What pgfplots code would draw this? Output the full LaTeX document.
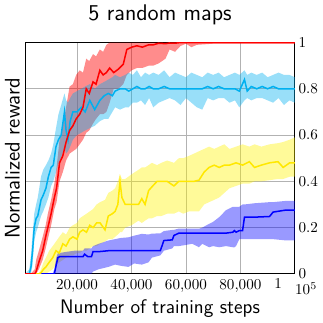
\documentclass[border=0pt]{standalone}
\usepackage{pgfplots}
\usepackage{pgfplotstable}
\pgfplotsset{compat=1.18}
\usepgfplotslibrary{fillbetween}
\definecolor{cyanline}{RGB}{0,176,240}
\definecolor{yelline}{RGB}{255,232,0}

\pgfplotstableread{
x m lo hi
1000 0 0 0
3000 0 0 0
4500 0 0 0.02
5000 0.01 0 0.06
6000 0.05 0.02 0.10
7400 0.10 0.06 0.16
8500 0.16 0.11 0.21
9300 0.20 0.15 0.26
10500 0.26 0.21 0.32
11700 0.33 0.28 0.39
12500 0.37 0.31 0.46
13600 0.48 0.40 0.58
14800 0.51 0.44 0.64
16000 0.57 0.49 0.72
17300 0.62 0.52 0.81
18500 0.64 0.53 0.82
19700 0.67 0.54 0.86
21000 0.69 0.56 0.88
22200 0.72 0.58 0.87
23400 0.80 0.61 0.93
24500 0.78 0.62 0.92
25900 0.83 0.65 0.95
27000 0.82 0.67 0.94
28400 0.88 0.69 0.97
29600 0.86 0.69 0.96
30800 0.87 0.70 0.99
32000 0.89 0.74 1.0
33500 0.87 0.80 1.0
35200 0.885 0.80 1.0
37000 0.906 0.82 1.0
38300 0.97 0.86 1.0
40100 0.98 0.88 1.0
42000 0.986 0.89 1.0
44000 0.98 0.89 1.0
46300 0.99 0.90 1.0
48000 0.99 0.90 1.0
50000 0.997 0.91 1.0
52500 0.995 0.93 1.0
54000 0.998 0.97 1.0
56000 0.997 0.96 1.0
58000 1.0 0.985 1.0
60000 1.0 0.995 1.0
62000 1.0 0.98 1.0
64000 1.0 0.99 1.0
70000 1.0 0.995 1.0
80000 1.0 0.995 1.0
90000 1.0 0.995 1.0
100000 1.0 0.995 1.0
}\redtab

\pgfplotstableread{
x m lo hi
1000 0 0 0
2500 0 0 0.02
3100 0.03 0 0.08
3700 0.10 0.04 0.17
4300 0.20 0.14 0.26
5000 0.24 0.18 0.30
5600 0.25 0.20 0.33
6800 0.32 0.25 0.42
7600 0.34 0.27 0.45
8600 0.37 0.30 0.47
9500 0.42 0.33 0.49
10500 0.46 0.38 0.52
11300 0.47 0.40 0.56
12300 0.55 0.44 0.63
13200 0.58 0.48 0.69
14200 0.60 0.50 0.73
15400 0.70 0.55 0.78
16000 0.62 0.52 0.75
16700 0.58 0.53 0.74
17500 0.66 0.55 0.76
18500 0.70 0.58 0.78
20000 0.70 0.60 0.79
21600 0.72 0.61 0.80
23000 0.70 0.62 0.81
24700 0.75 0.63 0.82
26500 0.71 0.64 0.80
28400 0.75 0.66 0.82
30000 0.77 0.67 0.83
31500 0.78 0.67 0.84
33000 0.77 0.70 0.85
34000 0.79 0.72 0.86
35800 0.80 0.71 0.85
37700 0.80 0.72 0.86
39000 0.79 0.72 0.87
40500 0.80 0.74 0.86
42000 0.81 0.74 0.88
43500 0.80 0.75 0.85
45000 0.80 0.73 0.87
46500 0.81 0.76 0.86
48000 0.80 0.72 0.87
50000 0.80 0.74 0.86
52000 0.81 0.75 0.88
54000 0.80 0.76 0.85
56000 0.80 0.75 0.87
58000 0.80 0.73 0.86
60000 0.80 0.76 0.85
62000 0.80 0.74 0.87
64000 0.80 0.72 0.86
66000 0.80 0.71 0.85
68000 0.81 0.76 0.87
70000 0.80 0.75 0.86
72000 0.81 0.76 0.87
74000 0.80 0.76 0.85
76000 0.80 0.74 0.86
78000 0.80 0.75 0.87
79600 0.79 0.72 0.86
81500 0.84 0.75 0.88
82500 0.79 0.76 0.86
84000 0.81 0.75 0.87
86000 0.80 0.76 0.86
88000 0.81 0.76 0.87
90000 0.80 0.75 0.85
92000 0.81 0.74 0.86
94000 0.80 0.76 0.87
96000 0.80 0.73 0.86
98000 0.80 0.75 0.86
100000 0.80 0.74 0.85
}\cyantab

\pgfplotstableread{
x m lo hi
1000 0 0 0
6000 0 0 0
6800 0.005 0 0.02
7700 0.02 0 0.05
8600 0.03 0 0.07
9800 0.05 0.01 0.10
11100 0.07 0.02 0.12
12300 0.10 0.04 0.14
13500 0.09 0.05 0.16
14800 0.13 0.06 0.18
16000 0.12 0.07 0.17
17300 0.15 0.08 0.20
18500 0.16 0.08 0.21
20000 0.15 0.09 0.22
21000 0.18 0.09 0.24
22200 0.19 0.10 0.25
23500 0.18 0.10 0.26
24700 0.21 0.11 0.27
25900 0.20 0.12 0.28
27200 0.22 0.12 0.30
28500 0.22 0.13 0.31
30300 0.19 0.14 0.32
31500 0.25 0.15 0.35
33000 0.26 0.15 0.36
34000 0.27 0.16 0.37
35000 0.30 0.17 0.40
35800 0.40 0.18 0.43
36500 0.33 0.18 0.41
37700 0.30 0.20 0.41
40000 0.30 0.21 0.43
42600 0.30 0.23 0.45
43800 0.325 0.22 0.46
45000 0.30 0.23 0.46
46300 0.36 0.24 0.47
47500 0.376 0.24 0.48
49400 0.40 0.25 0.47
51000 0.40 0.25 0.48
53100 0.40 0.26 0.49
55600 0.38 0.26 0.48
57400 0.40 0.27 0.50
59000 0.40 0.26 0.50
61100 0.40 0.27 0.51
63000 0.40 0.27 0.52
64800 0.405 0.27 0.53
66700 0.44 0.30 0.54
68500 0.46 0.31 0.55
70400 0.47 0.32 0.54
72200 0.46 0.33 0.55
74100 0.47 0.35 0.56
76000 0.47 0.37 0.54
78400 0.48 0.38 0.55
80800 0.47 0.39 0.56
83300 0.485 0.39 0.55
85200 0.46 0.40 0.56
87700 0.47 0.40 0.55
90700 0.48 0.405 0.56
93800 0.485 0.41 0.565
95700 0.46 0.41 0.57
98100 0.48 0.42 0.58
100000 0.48 0.42 0.59
}\yeltab

\pgfplotstableread{
x m lo hi
1000 0 0 0
11000 0 0 0
11700 0 0 0.02
12400 0.04 0 0.07
13000 0.07 0 0.09
13600 0.074 0 0.09
16000 0.074 0 0.095
19000 0.074 0 0.10
22200 0.074 0 0.10
22800 0.085 0 0.11
24000 0.074 0 0.11
25300 0.074 0 0.11
25900 0.096 0.01 0.12
28000 0.096 0.02 0.13
31500 0.10 0.03 0.144
34000 0.10 0.04 0.15
36000 0.10 0.035 0.155
38900 0.10 0.03 0.158
41000 0.10 0.045 0.165
43800 0.10 0.04 0.173
46300 0.10 0.05 0.17
47500 0.10 0.07 0.174
50600 0.10 0.08 0.175
51900 0.144 0.10 0.185
55000 0.147 0.11 0.19
55600 0.166 0.12 0.19
57400 0.176 0.12 0.196
60000 0.176 0.125 0.195
62300 0.176 0.13 0.195
64800 0.176 0.115 0.195
66000 0.176 0.13 0.20
68500 0.176 0.115 0.216
70000 0.176 0.12 0.225
72200 0.176 0.115 0.245
74700 0.176 0.12 0.275
77200 0.18 0.115 0.29
77800 0.187 0.115 0.29
78400 0.18 0.12 0.29
79600 0.187 0.15 0.29
80800 0.187 0.15 0.30
81500 0.245 0.15 0.30
85000 0.245 0.15 0.305
90700 0.248 0.15 0.31
92000 0.267 0.15 0.31
96300 0.275 0.145 0.315
100000 0.275 0.145 0.315
}\bluetab

\begin{document}
\begin{tikzpicture}
\begin{axis}[
  scale only axis,
  width=178.7pt, height=153.3pt,
  xmin=1000, xmax=100000, ymin=0, ymax=1,
  xtick={20000,40000,60000,80000,100000},
  xticklabels={20{,}000,40{,}000,60{,}000,80{,}000,\llap{$1$\hspace{8.5pt}}},
  ytick={0,0.2,0.4,0.6,0.8,1},
  yticklabels={0,0.2,0.4,0.6,0.8,1},
  yticklabel pos=right,
  yticklabel style={anchor=west, xshift=-1pt},
  scaled x ticks=false,
  major tick length=0pt,
  grid=major,
  major grid style={line width=0.5pt, draw=black!30},
  axis line style={line width=0.6pt},
  tick label style={font=\fontsize{10}{12}\selectfont},
  title={5 random maps},
  title style={font=\fontsize{15}{18}\sffamily, yshift=2pt},
  xlabel={Number of training steps},
  xlabel style={font=\fontsize{13}{15}\sffamily, yshift=2pt},
  ylabel={Normalized reward},
  every axis y label/.style={at={(rel axis cs:0,0.5)}, rotate=90, anchor=south, font=\fontsize{14}{16}\sffamily, yshift=0pt},
  clip=true,
  axis on top=false,
]
% red
\addplot[name path=rhi, draw=none, forget plot] table[x=x,y=hi]{\redtab};
\addplot[name path=rlo, draw=none, forget plot] table[x=x,y=lo]{\redtab};
\addplot[fill=red, fill opacity=0.45, draw=none, forget plot] fill between[of=rhi and rlo];
% cyan
\addplot[name path=chi, draw=none, forget plot] table[x=x,y=hi]{\cyantab};
\addplot[name path=clo, draw=none, forget plot] table[x=x,y=lo]{\cyantab};
\addplot[fill=cyanline, fill opacity=0.4, draw=none, forget plot] fill between[of=chi and clo];
% yellow
\addplot[name path=yhi, draw=none, forget plot] table[x=x,y=hi]{\yeltab};
\addplot[name path=ylo, draw=none, forget plot] table[x=x,y=lo]{\yeltab};
\addplot[fill=yellow, fill opacity=0.4, draw=none, forget plot] fill between[of=yhi and ylo];
% blue
\addplot[name path=bhi, draw=none, forget plot] table[x=x,y=hi]{\bluetab};
\addplot[name path=blo, draw=none, forget plot] table[x=x,y=lo]{\bluetab};
\addplot[fill=blue, fill opacity=0.4, draw=none, forget plot] fill between[of=bhi and blo];
% means
\addplot[blue, line width=1pt] table[x=x,y=m]{\bluetab};
\addplot[yelline, line width=1pt] table[x=x,y=m]{\yeltab};
\addplot[cyanline, line width=1pt] table[x=x,y=m]{\cyantab};
\addplot[red, line width=1pt] table[x=x,y=m]{\redtab};
\end{axis}
\node[anchor=north west, inner sep=0pt, font=\fontsize{10}{12}\selectfont] at ([xshift=0pt,yshift=-5.5pt]current axis.south east) {$10^5$};
\end{tikzpicture}
\end{document}
